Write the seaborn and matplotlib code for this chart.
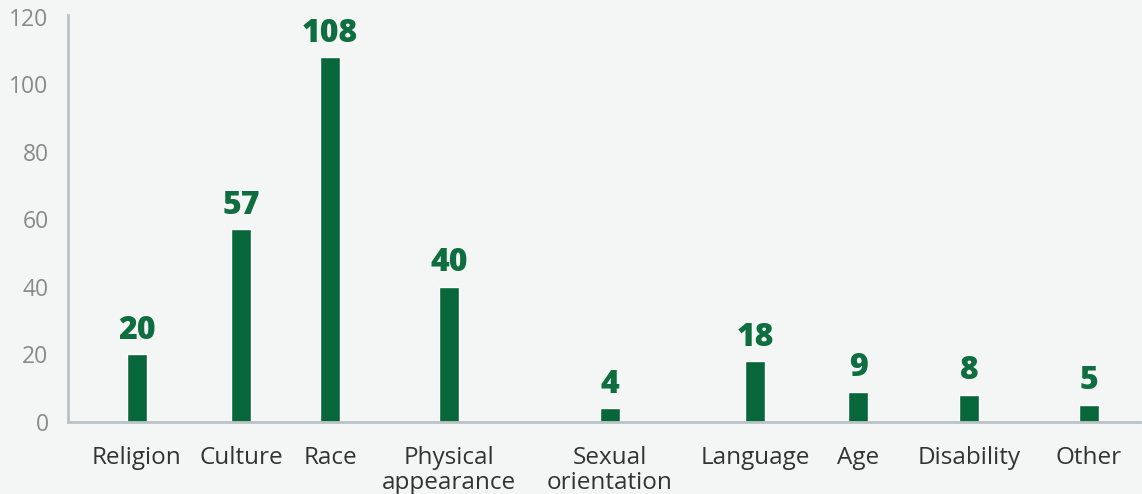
import numpy as np
import pandas as pd
import seaborn as sns
import matplotlib.pyplot as plt

categories = ["Religion", "Culture", "Race", "Physical\nappearance", "Sexual\norientation",
              "Language", "Age", "Disability", "Other"]
counts = [20, 57, 108, 40, 4, 18, 9, 8, 5]
y_ticks = [0, 20, 40, 60, 80, 100, 120]

# layout: bar centres along the x axis (uneven spacing, as in the original)
bar_pos = [137, 241, 330, 449, 610, 755, 858, 969, 1089]

bg = "#f3f6f5"
green = "#08673a"
label_green = "#0f6e3f"
spine_col = "#b9c3c7"

sns.set_theme(style="white")
plt.rcParams["font.family"] = ["Open Sans", "DejaVu Sans"]

df = pd.DataFrame({"pos": bar_pos, "count": counts})

fig = plt.figure(figsize=(11.42, 4.94), dpi=100, facecolor=bg)
ax = fig.add_axes([68 / 1142, 72 / 494, 1072 / 1142, 407 / 494])
ax.set_facecolor(bg)

min_gap = np.min(np.diff(bar_pos))
sns.barplot(data=df, x="pos", y="count", native_scale=True, color=green,
            width=20 / min_gap, saturation=1, ax=ax)

ax.bar_label(ax.containers[0], labels=[str(c) for c in counts], padding=5.5,
             fontsize=23, fontweight="heavy", color=label_green)

ax.set_xlim(68, 1140)
ax.set_ylim(0, 120.5)
ax.set_xticks(bar_pos)
ax.set_xticklabels(categories, fontsize=17.5, color="#333333", linespacing=1.05)
ax.set_yticks(y_ticks)
ax.set_yticklabels([str(t) for t in y_ticks], fontsize=16.5, color="#8a8a8a")
ax.tick_params(axis="x", length=0, pad=17)
ax.tick_params(axis="y", length=0, pad=14)
ax.set_xlabel("")
ax.set_ylabel("")

for side in ["top", "right"]:
    ax.spines[side].set_visible(False)
for side in ["left", "bottom"]:
    ax.spines[side].set_color(spine_col)
    ax.spines[side].set_linewidth(2)

fig.savefig("out.png", dpi=100, facecolor=bg)
